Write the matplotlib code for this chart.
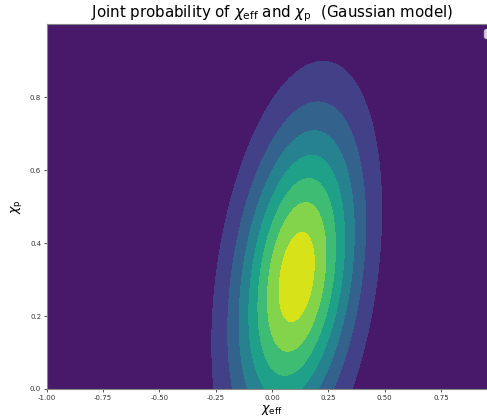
import numpy as np
import matplotlib
matplotlib.use("Agg")
import matplotlib.pyplot as plt

# Gaussian model parameters
mean_chi_eff = 0.11
mean_chi_p = 0.307
sigma_chi_eff = 0.187
sigma_chi_p = 0.293
rho = 0.31

chi_eff_range = [-1.0, 1.0]
chi_p_range = [0.0, 1.0]
x_ticks = [-1.00, -0.75, -0.50, -0.25, 0.00, 0.25, 0.50, 0.75]
y_ticks = [0.0, 0.2, 0.4, 0.6, 0.8]

x = np.linspace(chi_eff_range[0], chi_eff_range[1], 300)
y = np.linspace(chi_p_range[0], chi_p_range[1], 300)
X, Y = np.meshgrid(x, y)
zx = (X - mean_chi_eff) / sigma_chi_eff
zy = (Y - mean_chi_p) / sigma_chi_p
Q = (zx**2 - 2 * rho * zx * zy + zy**2) / (1 - rho**2)
Z = np.exp(-Q / 2) / (2 * np.pi * sigma_chi_eff * sigma_chi_p * np.sqrt(1 - rho**2))

fig = plt.figure(figsize=(4.87, 4.18), dpi=100)
# axes run past the right edge of the figure, as in the reference crop
ax = fig.add_axes([0.0959, 0.0694, 0.925, 0.873])
ax.contourf(X, Y, Z, cmap='viridis')
ax.set_xlim(chi_eff_range)
ax.set_ylim(chi_p_range)
ax.set_xticks(x_ticks)
ax.set_yticks(y_ticks)
ax.set_xticklabels([f'{t:.2f}' for t in x_ticks])
ax.set_yticklabels([f'{t:.1f}' for t in y_ticks])
ax.tick_params(labelsize=5, length=2.5, width=0.6, colors='#333333', pad=1.5)
for s in ax.spines.values():
    s.set_color('#888888')
ax.set_xlabel(r'$\chi_{\rm eff}$', fontsize=9, labelpad=2)
ax.set_ylabel(r'$\chi_{\rm p}$', fontsize=9, labelpad=4)
ax.set_title(r'Joint probability of $\chi_{\rm eff}$ and $\chi_{\rm p}$  (Gaussian model)',
             fontsize=10.8, pad=4)
# empty legend box, mostly cut off at the right edge
ax.legend(handles=[], loc='upper left', bbox_to_anchor=(0.971, 0.986),
          borderaxespad=0, fontsize=8)

fig.savefig('out.png', dpi=100)
